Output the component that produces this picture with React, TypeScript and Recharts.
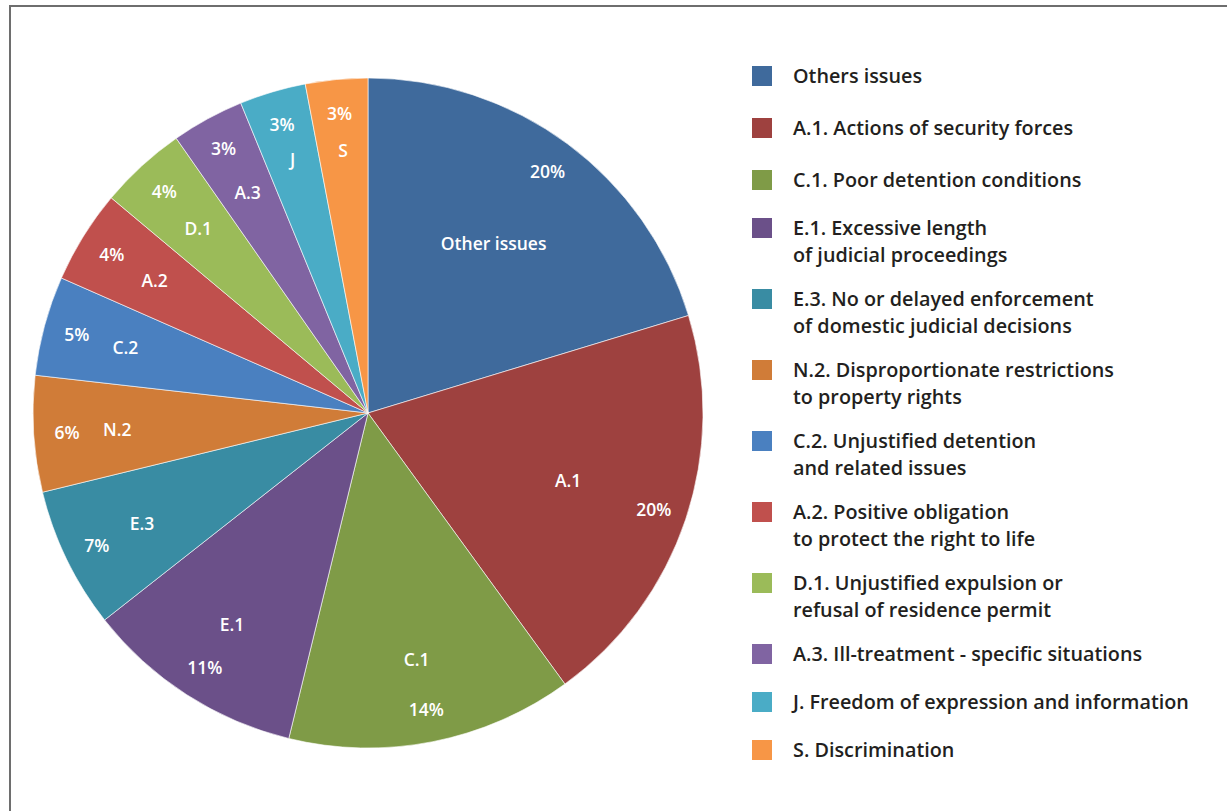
import { PieChart, Pie, Cell, Legend } from "recharts";

// slices, clockwise from 12 o'clock
const sliceNames = ["Other issues", "A.1", "C.1", "E.1", "E.3", "N.2", "C.2", "A.2", "D.1", "A.3", "J", "S"];
const shares = [20.3, 19.7, 13.8, 10.6, 6.8, 5.6, 4.8, 4.5, 4.2, 3.5, 3.2, 3.0];
const shownPct = ["20%", "20%", "14%", "11%", "7%", "6%", "5%", "4%", "4%", "3%", "3%", "3%"];

const legendLabels = [
  ["Others issues"],
  ["A.1. Actions of security forces"],
  ["C.1. Poor detention conditions"],
  ["E.1. Excessive length", "of judicial proceedings"],
  ["E.3. No or delayed enforcement", "of domestic judicial decisions"],
  ["N.2. Disproportionate restrictions", "to property rights"],
  ["C.2. Unjustified detention", "and related issues"],
  ["A.2. Positive obligation", "to protect the right to life"],
  ["D.1. Unjustified expulsion or", "refusal of residence permit"],
  ["A.3. Ill-treatment - specific situations"],
  ["J. Freedom of expression and information"],
  ["S. Discrimination"],
];

const colors = [
  "#3f6a9c",
  "#9e413f",
  "#7f9b47",
  "#6b5089",
  "#398ca3",
  "#d07c38",
  "#4a80c0",
  "#c0504d",
  "#9bbb59",
  "#8064a2",
  "#4aacc6",
  "#f79646",
];

const data = sliceNames.map((name, i) => ({ name, value: shares[i] }));

const RAD = Math.PI / 180;

function renderLabel(props: any) {
  const { cx, cy, midAngle, outerRadius, index } = props;
  const nameR = outerRadius * (shares[index] >= 15 ? 0.63 : shares[index] <= 3.3 ? 0.79 : 0.75);
  const pctR = outerRadius * 0.9;
  const cos = Math.cos(-midAngle * RAD);
  const sin = Math.sin(-midAngle * RAD);
  const style = { fill: "#fff", fontSize: 17.5, fontWeight: 600 };
  return (
    <g key={`lbl-${index}`}>
      <text x={cx + nameR * cos} y={cy + nameR * sin} textAnchor="middle" dominantBaseline="central" style={style}>
        {sliceNames[index]}
      </text>
      <text x={cx + pctR * cos} y={cy + pctR * sin} textAnchor="middle" dominantBaseline="central" style={style}>
        {shownPct[index]}
      </text>
    </g>
  );
}

function LegendBox() {
  return (
    <div>
      {legendLabels.map((lines, i) => (
        <div
          key={i}
          style={{
            display: "flex",
            alignItems: "flex-start",
            marginBottom: i < 2 ? 25 : lines.length === 1 ? 21 : 17,
          }}
        >
          <div style={{ width: 20, height: 20, marginTop: 4, background: colors[i], flex: "none" }} />
          <div style={{ marginLeft: 21, fontSize: 19.8, fontWeight: 600, lineHeight: "27px", color: "#231f20", whiteSpace: "nowrap" }}>
            {lines.map((l, j) => (
              <div key={j}>{l}</div>
            ))}
          </div>
        </div>
      ))}
    </div>
  );
}

export default function App() {
  return (
    <div
      style={{
        position: "absolute",
        left: 0,
        top: 0,
        width: 1227,
        height: 811,
        overflow: "hidden",
        background: "#fff",
        fontFamily: "'Open Sans', sans-serif",
      }}
    >
      <div
        style={{
          position: "absolute",
          left: 9,
          top: 5,
          width: 1300,
          height: 900,
          border: "2px solid #6e6e6e",
        }}
      />
      <div style={{ position: "absolute", left: 0, top: 0 }}>
        <PieChart width={1227} height={811} margin={{ top: 0, right: 0, bottom: 0, left: 0 }}>
          <Pie
            data={data}
            dataKey="value"
            nameKey="name"
            cx={368}
            cy={413}
            outerRadius={335}
            startAngle={90}
            endAngle={-270}
            stroke="#ffffff"
            strokeWidth={0.6}
            label={renderLabel}
            labelLine={false}
            isAnimationActive={false}
          >
            {data.map((d, i) => (
              <Cell key={d.name} fill={colors[i]} />
            ))}
          </Pie>
          <Legend
            layout="vertical"
            content={() => <LegendBox />}
            wrapperStyle={{ position: "absolute", left: 752, top: 62, width: 470 }}
          />
        </PieChart>
      </div>
    </div>
  );
}
